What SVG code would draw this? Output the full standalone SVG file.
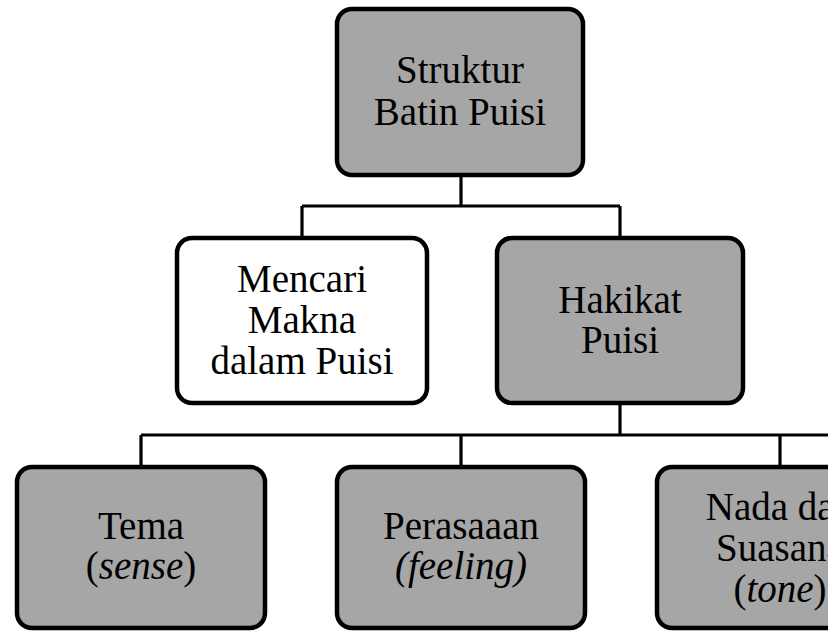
<svg xmlns="http://www.w3.org/2000/svg" width="832" height="632" viewBox="0 0 832 632">
  <defs>
    <clipPath id="crop"><rect x="0" y="0" width="828" height="632"/></clipPath>
  </defs>
  <style>
    .box { fill: #a6a6a6; stroke: #000; stroke-width: 4.5; }
    .white { fill: #ffffff; }
    .line { fill: none; stroke: #000; stroke-width: 3.2; }
    text { font-family: "Liberation Serif", "Times New Roman", serif; font-size: 39px; fill: #000; text-anchor: middle; }
    .it { font-style: italic; }
  </style>
  <rect width="832" height="632" fill="#ffffff"/>
  <g clip-path="url(#crop)">
    <g id="connectors">
      <path class="line" d="M461 175 V206 M302 206 H620 M302 206 V238 M620 206 V238"/>
      <path class="line" d="M620 403 V435 M141 435 H840 M141 435 V467 M461 435 V467 M780 435 V467"/>
    </g>
    <g id="struktur">
      <rect class="box" x="337" y="9" width="246" height="166" rx="15"/>
      <text x="460" y="83">Struktur</text>
      <text x="460" y="125">Batin Puisi</text>
    </g>
    <g id="mencari">
      <rect class="box white" x="177" y="238" width="250" height="165" rx="15"/>
      <text x="302" y="292">Mencari</text>
      <text x="302" y="333">Makna</text>
      <text x="302" y="374">dalam Puisi</text>
    </g>
    <g id="hakikat">
      <rect class="box" x="497" y="238" width="246" height="165" rx="15"/>
      <text x="620" y="313">Hakikat</text>
      <text x="620" y="353">Puisi</text>
    </g>
    <g id="tema">
      <rect class="box" x="17" y="467" width="248" height="161" rx="15"/>
      <text x="141" y="539">Tema</text>
      <text x="141" y="579">(<tspan class="it">sense</tspan>)</text>
    </g>
    <g id="perasaan">
      <rect class="box" x="337" y="467" width="248" height="161" rx="15"/>
      <text x="461" y="539">Perasaaan</text>
      <text x="461" y="579" class="it">(feeling)</text>
    </g>
    <g id="nada">
      <rect class="box" x="657" y="467" width="246" height="161" rx="15"/>
      <text x="780" y="520">Nada dan</text>
      <text x="780" y="561">Suasana</text>
      <text x="780" y="602">(<tspan class="it">tone</tspan>)</text>
    </g>
  </g>
</svg>
